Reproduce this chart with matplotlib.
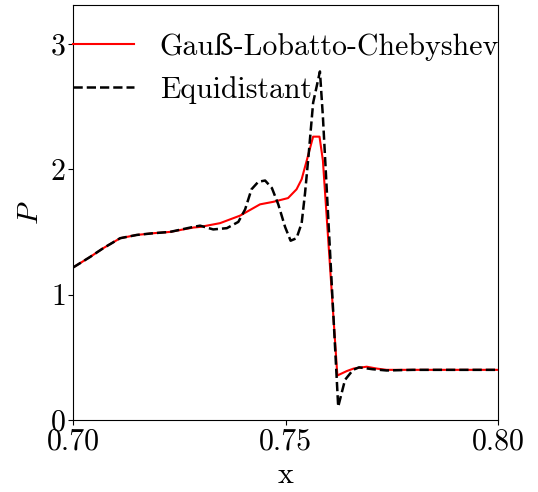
import matplotlib
matplotlib.use("Agg")
import matplotlib.pyplot as plt

plt.rcParams['font.family'] = ['cmr10', 'DejaVu Serif']
plt.rcParams['mathtext.fontset'] = 'cm'
plt.rcParams['axes.formatter.use_mathtext'] = True

# Gauss-Lobatto-Chebyshev solution
x_glc = [0.7000, 0.7040, 0.7071, 0.7111, 0.7150, 0.7190, 0.7228, 0.7283, 0.7299,
         0.7346, 0.7393, 0.7440, 0.7471, 0.7506, 0.7526, 0.7538, 0.7550, 0.7565,
         0.7580, 0.7588, 0.7622, 0.7644, 0.7660, 0.7691, 0.7715, 0.7738, 0.7800, 0.8000]
p_glc = [1.216, 1.30, 1.37, 1.45, 1.476, 1.49, 1.50, 1.535, 1.54,
         1.57, 1.63, 1.72, 1.74, 1.77, 1.84, 1.92, 2.07, 2.26,
         2.26, 2.07, 0.355, 0.39, 0.41, 0.425, 0.41, 0.40, 0.40, 0.40]

# equidistant solution
x_eq = [0.7000, 0.7040, 0.7071, 0.7111, 0.7150, 0.7190, 0.7228, 0.7283, 0.7299,
        0.7330, 0.7362, 0.7389, 0.7405, 0.7420, 0.7436, 0.7452, 0.7468, 0.7483,
        0.7499, 0.7512, 0.7526, 0.7538, 0.7546, 0.7554, 0.7565, 0.7581, 0.7588,
        0.7593, 0.7624, 0.7640, 0.7659, 0.7673, 0.7705, 0.7738, 0.7800, 0.8000]
p_eq = [1.216, 1.30, 1.37, 1.45, 1.476, 1.49, 1.50, 1.54, 1.55,
        1.52, 1.53, 1.58, 1.68, 1.84, 1.90, 1.91, 1.85, 1.72,
        1.54, 1.43, 1.45, 1.57, 1.81, 2.10, 2.53, 2.78, 2.42,
        2.10, 0.106, 0.32, 0.40, 0.42, 0.405, 0.395, 0.40, 0.40]

fig = plt.figure(figsize=(5.38, 4.92), dpi=100)
ax = fig.add_axes([73 / 538, 72 / 492, 425 / 538, 415 / 492])

ax.plot(x_glc, p_glc, color='red', lw=1.5, label='Gauß-Lobatto-Chebyshev')
ax.plot(x_eq, p_eq, color='black', lw=1.8, ls='--', label='Equidistant')

ax.set_xlim(0.70, 0.80)
ax.set_ylim(0, 3.31)
ax.set_xticks([0.70, 0.75, 0.80])
ax.set_xticklabels(['0.70', '0.75', '0.80'])
ax.set_yticks([0, 1, 2, 3])
ax.tick_params(labelsize=21.5, pad=2)
ax.set_xlabel('x', fontsize=21.5, labelpad=5)
ax.set_ylabel('$P$', fontsize=21.5, labelpad=4)

ax.legend(loc='upper left', bbox_to_anchor=(0, 0.933), frameon=False, fontsize=21.5,
          borderaxespad=0, borderpad=0, handlelength=2.05, handletextpad=0.85,
          labelspacing=0.5)

fig.savefig('out.png', dpi=100)
